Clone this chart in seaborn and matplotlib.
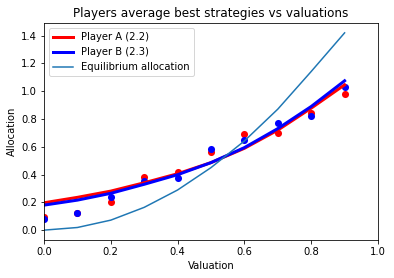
import matplotlib
matplotlib.use("Agg")
import matplotlib.pyplot as plt
import seaborn as sns
import pandas as pd

valuations = [0.0, 0.1, 0.2, 0.3, 0.4, 0.5, 0.6, 0.7, 0.8, 0.9]
a_points = [0.096, 0.12, 0.204, 0.385, 0.416, 0.56, 0.693, 0.698, 0.846, 0.979]
b_points = [0.077, 0.125, 0.236, 0.354, 0.373, 0.584, 0.649, 0.77, 0.823, 1.03]
a_fit = [0.197, 0.236, 0.281, 0.341, 0.406, 0.486, 0.589, 0.72, 0.878, 1.046]
b_fit = [0.18, 0.216, 0.265, 0.33, 0.399, 0.486, 0.594, 0.731, 0.89, 1.075]
equilibrium = [0.0, 0.019, 0.072, 0.164, 0.289, 0.45, 0.642, 0.871, 1.142, 1.42]

df = pd.DataFrame({"v": valuations, "a_pts": a_points, "b_pts": b_points,
                   "a_fit": a_fit, "b_fit": b_fit, "eq": equilibrium})

fig = plt.figure(figsize=(394 / 72, 278 / 72), dpi=72)
ax = fig.add_axes([44 / 394, 1 - 240 / 278, 334 / 394, 217 / 278])

sns.scatterplot(data=df, x="v", y="a_pts", color="red", s=50, linewidth=0, ax=ax)
sns.scatterplot(data=df, x="v", y="b_pts", color="blue", s=50, linewidth=0, ax=ax)
sns.lineplot(data=df, x="v", y="a_fit", color="red", linewidth=3, label="Player A (2.2)", ax=ax)
sns.lineplot(data=df, x="v", y="b_fit", color="blue", linewidth=3, label="Player B (2.3)", ax=ax)
sns.lineplot(data=df, x="v", y="eq", color="#1f77b4", linewidth=1.5, label="Equilibrium allocation", ax=ax)

ax.set_xlim(0, 1.0)
ax.set_ylim(-0.071, 1.491)
ax.set_xticks([0.0, 0.2, 0.4, 0.6, 0.8, 1.0])
ax.set_yticks([0.0, 0.2, 0.4, 0.6, 0.8, 1.0, 1.2, 1.4])
ax.set_xlabel("Valuation")
ax.set_ylabel("Allocation")
ax.set_title("Players average best strategies vs valuations")
ax.legend(loc="upper left")

fig.savefig("out.png", dpi=72)
